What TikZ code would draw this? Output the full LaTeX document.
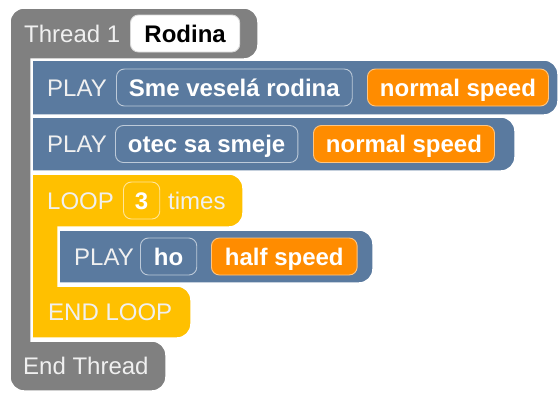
\documentclass[tikz,border=0pt]{standalone}
\usepackage{fontspec}
\setmainfont{Liberation Sans}
\usetikzlibrary{positioning}

\definecolor{threadgray}{RGB}{128,128,128}
\definecolor{playblue}{RGB}{90,122,159}
\definecolor{loopyellow}{RGB}{255,192,0}
\definecolor{speedorange}{RGB}{255,140,0}

\tikzset{
    blk/.style={draw=white, line width=1.5pt},
    lbl/.style={text=white!94!black, font=\fontsize{24}{26}\selectfont, inner sep=0pt,
        text height=17.5pt, text depth=0pt, anchor=west},
    slot/.style={rounded corners=8pt, line width=0.9pt, minimum height=37pt, inner xsep=12.5pt,
        inner ysep=0pt, text height=17.5pt, text depth=0pt, anchor=west, text=white,
        font=\fontsize{24}{26}\selectfont\bfseries},
    nameslot/.style={slot, fill=white, draw=white!85!black, text=black, inner xsep=14pt},
    clipslot/.style={slot, fill=playblue, draw=playblue!40!white},
    speedslot/.style={slot, fill=speedorange, draw=speedorange!50!white},
    countslot/.style={slot, fill=loopyellow, draw=loopyellow!40!white, inner xsep=11.5pt}
}

% statement block: square on the left, rounded on the right
\newcommand{\stmtblock}[5]{%
    \path[blk, fill=#5] (#1,#2) [rounded corners=14pt] -- (#3,#2) -- (#3,#4)
        [sharp corners] -- (#1,#4) -- cycle;}

\begin{document}
\begin{tikzpicture}[x=1pt, y=-1pt]
    \useasboundingbox (0,0) rectangle (560,392);

    % --- thread frame ---
    \path[blk, fill=threadgray] (10,200) [rounded corners=14pt] -- (10,8) -- (258,8) -- (258,59)
        [sharp corners] -- (31,59) -- (31,341)
        [rounded corners=14pt] -- (166,341) -- (166,391) -- (10,391) -- cycle;
    \node[lbl] (thread) at (24,33.5) {Thread 1};
    \node[nameslot] (tname) at (130,33.5) {Rodina};

    % --- first two PLAY blocks ---
    \stmtblock{32}{60}{558}{115}{playblue}
    \node[lbl] (play1) at (47,87.5) {PLAY};
    \node[clipslot] (clip1) at (116,87.5) {Sme veselá rodina};
    \node[speedslot] (speed1) at (367,87.5) {normal speed};

    \stmtblock{32}{117}{515}{171}{playblue}
    \node[lbl] (play2) at (47,144) {PLAY};
    \node[clipslot] (clip2) at (115,144) {otec sa smeje};
    \node[speedslot] (speed2) at (313,144) {normal speed};

    % --- loop frame ---
    \path[blk, fill=loopyellow] (32,250) -- (32,174) [rounded corners=14pt] -- (243,174) -- (243,227)
        [sharp corners] -- (58,227) -- (58,286)
        [rounded corners=14pt] -- (191,286) -- (191,338) [sharp corners] -- (32,338) -- cycle;
    \node[lbl] (loop) at (47,200.5) {LOOP};
    \node[countslot] (count) at (123,200.5) {3};
    \node[lbl] (times) at (168,200.5) {times};

    % PLAY block inside the loop
    \stmtblock{59}{230}{373}{283}{playblue}
    \node[lbl] (play3) at (74,256.5) {PLAY};
    \node[clipslot, inner xsep=13.5pt] (clip3) at (140,256.5) {ho};
    \node[speedslot, inner xsep=13.5pt] (speed3) at (211,256.5) {half speed};

    \node[lbl] (endloop) at (48,312) {END LOOP};
    \node[lbl] (endthread) at (23,366) {End Thread};
\end{tikzpicture}
\end{document}
